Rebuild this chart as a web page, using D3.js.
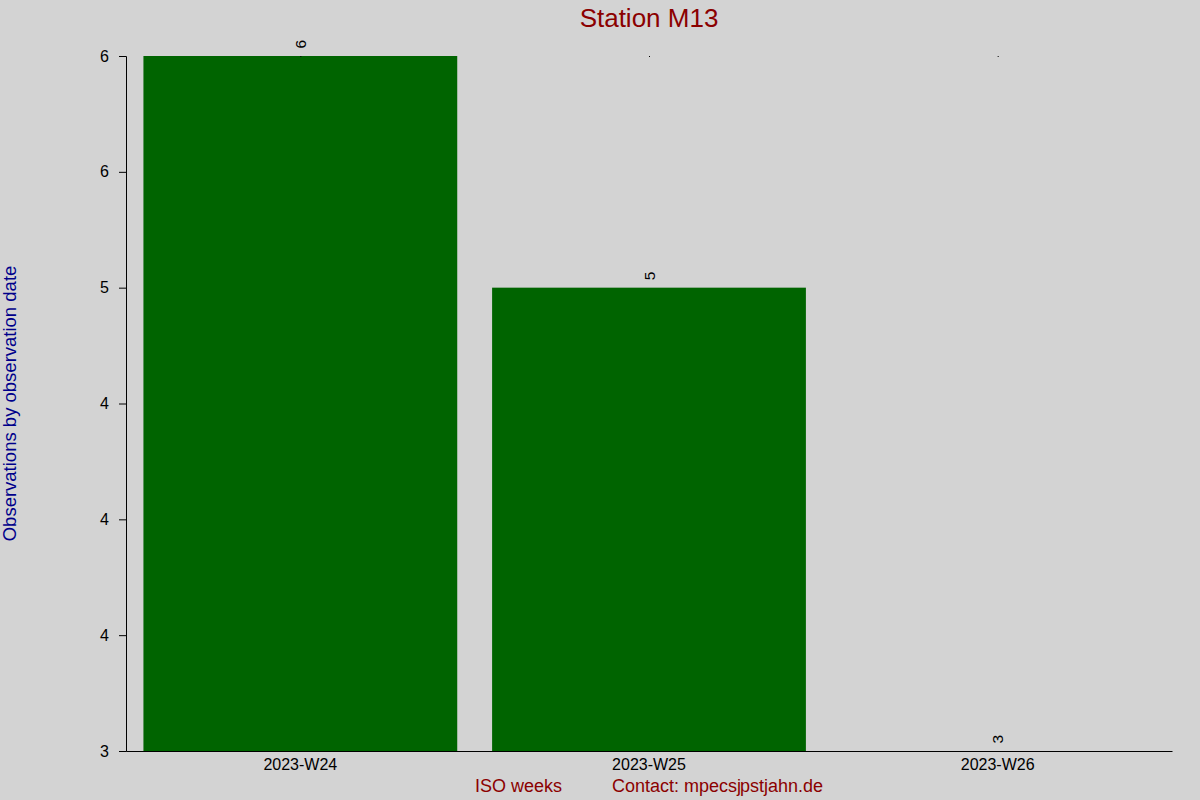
<!DOCTYPE html>
<html>
<head>
<meta charset="utf-8">
<script src="https://cdn.jsdelivr.net/npm/d3@7"></script>
<style>
	body { margin: 0; background: #d3d3d3; }
	text { font-family: "Liberation Sans", Arial, sans-serif; }
</style>
</head>
<body>
<script>
// weekly counts for one station
const weeks = ["2023-W24", "2023-W25", "2023-W26"];
const counts = [6, 5, 3];
const yTicks = [3, 3.5, 4, 4.5, 5, 5.5, 6];
const yTickLabels = ["3", "4", "4", "4", "5", "6", "6"];

const width = 1200,
	height = 800,
	marginTop = 56,
	marginRight = 28,
	marginBottom = 49,
	marginLeft = 126;

const svg = d3.select("body")
	.append("svg")
	.attr("width", width)
	.attr("height", height)
	.style("background-color", "#d3d3d3");

const x = d3.scaleBand()
	.domain(weeks)
	.range([marginLeft, width - marginRight])
	.paddingInner(0.1)
	.paddingOuter(0.05);

const y = d3.scaleLinear()
	.domain([3, 6])
	.range([height - marginBottom, marginTop]);

// bars
svg.selectAll("rect.bar")
	.data(weeks)
	.enter().append("rect")
	.attr("class", "bar")
	.attr("x", d => x(d))
	.attr("y", (d, i) => y(counts[i]))
	.attr("width", x.bandwidth())
	.attr("height", (d, i) => y(3) - y(counts[i]))
	.attr("fill", "#006400");

// tiny marks at the max level
svg.selectAll("rect.dot")
	.data(weeks)
	.enter().append("rect")
	.attr("class", "dot")
	.attr("x", d => x(d) + x.bandwidth() / 2)
	.attr("y", y(d3.max(counts)))
	.attr("width", 1)
	.attr("height", 1)
	.attr("fill", "#000");

// value labels, rotated
svg.selectAll("text.val")
	.data(weeks)
	.enter().append("text")
	.attr("class", "val")
	.attr("transform", (d, i) => `translate(${x(d) + x.bandwidth() / 2 + 5.5},${y(counts[i]) - 7.5}) rotate(-90)`)
	.attr("font-size", 15.5)
	.attr("fill", "#000")
	.text((d, i) => counts[i]);

// axes
const yAxis = d3.axisLeft(y)
	.tickValues(yTicks)
	.tickFormat((d, i) => yTickLabels[i])
	.tickSizeOuter(0)
	.tickSize(7)
	.tickPadding(10);

const gy = svg.append("g")
	.attr("transform", `translate(${marginLeft},0)`)
	.call(yAxis);
gy.selectAll("text").attr("font-size", 16).attr("font-family", null).attr("fill", "#000");
gy.selectAll("line, path").attr("stroke", "#000");

const xAxis = d3.axisBottom(x)
	.tickSize(0)
	.tickSizeOuter(0)
	.tickPadding(8);

const gx = svg.append("g")
	.attr("transform", `translate(0,${height - marginBottom})`)
	.call(xAxis);
gx.selectAll("text").attr("font-size", 16).attr("font-family", null).attr("fill", "#000");
gx.select("path").attr("stroke", "#000");

// title
svg.append("text")
	.attr("x", (marginLeft + width - marginRight) / 2)
	.attr("y", 27)
	.attr("text-anchor", "middle")
	.attr("font-size", 26)
	.attr("fill", "#8b0000")
	.text("Station M13");

// y label
svg.append("text")
	.attr("transform", `translate(16,${(marginTop + height - marginBottom) / 2}) rotate(-90)`)
	.attr("text-anchor", "middle")
	.attr("font-size", 18.5)
	.attr("fill", "#00008b")
	.text("Observations by observation date");

// x label and contact line
const xl = svg.append("text")
	.attr("x", (marginLeft + width - marginRight) / 2)
	.attr("y", 792)
	.attr("text-anchor", "middle")
	.attr("font-size", 18)
	.attr("fill", "#8b0000")
	.style("white-space", "pre");
xl.append("tspan").text("ISO weeks          Contact: mpecs");
xl.append("tspan").text("j");
xl.append("tspan").attr("dx", -1).text("pstjahn.de");
</script>
</body>
</html>
